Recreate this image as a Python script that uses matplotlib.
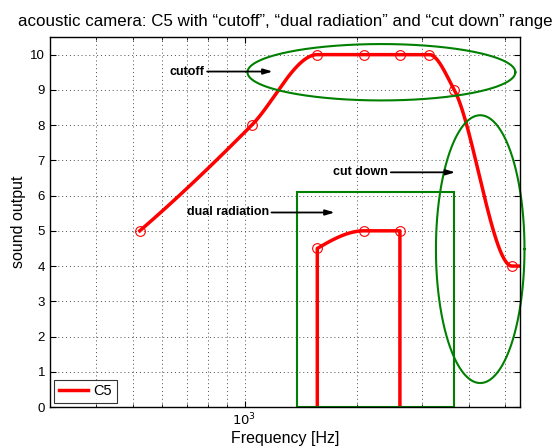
import numpy as np
import matplotlib.pyplot as plt
from matplotlib.patches import Rectangle
from matplotlib.ticker import LogLocator, NullFormatter, FixedLocator

plt.rcParams['font.family'] = ['Liberation Sans', 'DejaVu Sans']

# C5 harmonics and sound output
C5_FREQ = [523, 1046, 1569, 2093, 2616, 3139, 3662, 5232, 5756]
C5_LEVEL = [5, 8, 10, 10, 10, 10, 9, 4, 4]

# dual radiation part
DUAL_FREQ = [1569, 2093, 2616]
DUAL_LEVEL = [4.5, 5, 5]

# marked ranges
CUTOFF_ELLIPSE = (2333, 0.36, 9.5, 0.8)      # center Hz, half width (decades), center y, half height
CUTDOWN_ELLIPSE = (4300, 0.119, 4.48, 3.8)
DUAL_BOX = (1381, 3662, 0, 6.1)               # f0, f1, y0, y1

# annotation texts: label, text end (Hz, y), arrow tip (Hz)
NOTES = [
    ('cutoff', 780, 9.52, 1190),
    ('dual radiation', 1161, 5.52, 1747),
    ('cut down', 2431, 6.66, 3684),
]

RED = '#ff0000'
GREEN = '#008000'


def pchip(x, y, xs):
    # monotone cubic hermite, used only to draw a smooth line through the points
    x = np.asarray(x, float)
    y = np.asarray(y, float)
    h = np.diff(x)
    delta = np.diff(y) / h
    n = len(x)
    d = np.zeros(n)
    for k in range(1, n - 1):
        if delta[k - 1] * delta[k] <= 0:
            d[k] = 0
        else:
            w1 = 2 * h[k] + h[k - 1]
            w2 = h[k] + 2 * h[k - 1]
            d[k] = (w1 + w2) / (w1 / delta[k - 1] + w2 / delta[k])

    def end_slope(h0, h1, d0, d1):
        s = ((2 * h0 + h1) * d0 - h0 * d1) / (h0 + h1)
        if np.sign(s) != np.sign(d0):
            s = 0
        elif np.sign(d0) != np.sign(d1) and abs(s) > abs(3 * d0):
            s = 3 * d0
        return s

    d[0] = end_slope(h[0], h[1], delta[0], delta[1])
    d[-1] = end_slope(h[-1], h[-2], delta[-1], delta[-2])

    idx = np.clip(np.searchsorted(x, xs) - 1, 0, n - 2)
    t = (xs - x[idx]) / h[idx]
    h00 = 2 * t**3 - 3 * t**2 + 1
    h10 = t**3 - 2 * t**2 + t
    h01 = -2 * t**3 + 3 * t**2
    h11 = t**3 - t**2
    return (h00 * y[idx] + h10 * h[idx] * d[idx]
            + h01 * y[idx + 1] + h11 * h[idx] * d[idx + 1])


def smooth(freq, level, num=400):
    lx = np.log10(freq)
    xs = np.linspace(lx[0], lx[-1], num)
    return 10 ** xs, pchip(lx, level, xs)


def ellipse(params, num=300):
    fc, half_w, yc, half_h = params
    t = np.linspace(0, 2 * np.pi, num)
    return 10 ** (np.log10(fc) + half_w * np.cos(t)), yc + half_h * np.sin(t)


fig = plt.figure(figsize=(5.59, 4.48), dpi=100)
ax = fig.add_axes([0.0894, 0.0915, 0.8408, 0.8259])
ax.set_xscale('log')

# main C5 curve
fx, fy = smooth(C5_FREQ, C5_LEVEL)
ax.plot(fx, fy, color=RED, linewidth=2.5, label='C5')
ax.plot(C5_FREQ, C5_LEVEL, linestyle='none', marker='o', markersize=7,
        markerfacecolor='none', markeredgecolor=RED, markeredgewidth=0.8)

# dual radiation curve with vertical drops
dx, dy = smooth(DUAL_FREQ, DUAL_LEVEL)
dx = np.concatenate([[DUAL_FREQ[0]], dx, [DUAL_FREQ[-1]]])
dy = np.concatenate([[0], dy, [0]])
ax.plot(dx, dy, color=RED, linewidth=2.5)
ax.plot(DUAL_FREQ, DUAL_LEVEL, linestyle='none', marker='o', markersize=7,
        markerfacecolor='none', markeredgecolor=RED, markeredgewidth=0.8)

# marked ranges
ex, ey = ellipse(CUTOFF_ELLIPSE)
ax.plot(ex, ey, color=GREEN, linewidth=1.5, clip_on=False)
ex, ey = ellipse(CUTDOWN_ELLIPSE)
ax.plot(ex, ey, color=GREEN, linewidth=1.5, clip_on=False)
f0, f1, y0, y1 = DUAL_BOX
ax.add_patch(Rectangle((f0, y0), f1 - f0, y1 - y0, fill=False,
                       edgecolor=GREEN, linewidth=1.5, zorder=2))

for label, fx_txt, y_txt, fx_tip in NOTES:
    ax.annotate(label, xy=(fx_tip, y_txt), xytext=(fx_txt, y_txt),
                ha='right', va='center', fontsize=9, fontweight='bold',
                arrowprops=dict(arrowstyle='-|>,head_length=0.6,head_width=0.18',
                                color='black', linewidth=1.3,
                                shrinkA=0, shrinkB=0))

ax.set_xlim(300, 5500)
ax.set_ylim(0, 10.5)
ax.set_yticks(range(0, 11))
ax.xaxis.set_major_locator(FixedLocator([1000]))
ax.xaxis.set_minor_locator(LogLocator(base=10, subs=np.arange(2, 10)))
ax.xaxis.set_minor_formatter(NullFormatter())
ax.set_xticklabels(['$10^3$'])

grid_style = dict(linestyle=(0, (1, 3)), color='0.3', linewidth=0.7)
ax.grid(True, which='major', **grid_style)
ax.grid(True, which='minor', axis='x', **grid_style)
ax.tick_params(which='both', direction='in', top=True, right=True,
               labelsize=9.5)
ax.tick_params(which='major', length=4)
ax.tick_params(which='minor', length=2)
for s in ax.spines.values():
    s.set_linewidth(1.0)
    s.set_zorder(3)

ax.set_xlabel('Frequency [Hz]', fontsize=11.5, labelpad=2)
ax.set_ylabel('sound output', fontsize=11.5, labelpad=3)
ax.set_title('acoustic camera: C5 with \u201ccutoff\u201d, \u201cdual radiation\u201d '
             'and \u201ccut down\u201d range', fontsize=12.2, pad=8)

leg = ax.legend(loc='lower left', fancybox=False, edgecolor='black',
                fontsize=10.5, handlelength=2.0, handletextpad=0.4,
                borderpad=0.3, borderaxespad=0.3)
leg.get_frame().set_linewidth(0.8)

plt.savefig('out.png', dpi=100)
plt.close()
